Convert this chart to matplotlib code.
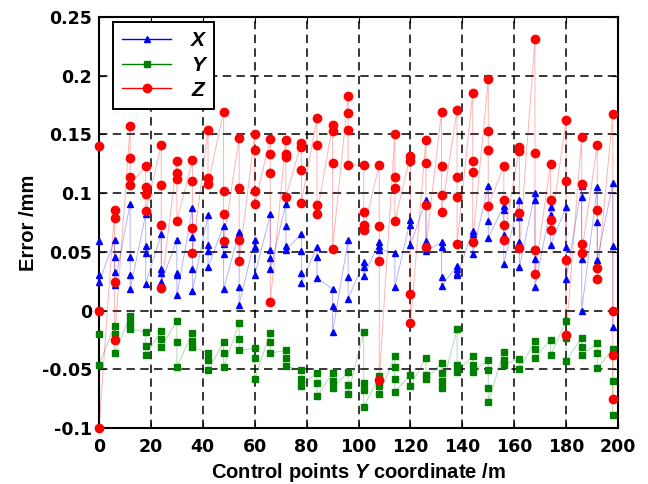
import numpy as np
import matplotlib
matplotlib.use('Agg')
from matplotlib import pyplot as plt

# control point Y coordinate (m), one group of points per position
cols = [0, 6, 12, 18, 24, 30, 36, 42, 48, 54, 60, 66, 72, 78, 84, 90, 96,
        102, 108, 114, 120, 126, 132, 138, 144, 150, 156, 162, 168, 174,
        180, 186, 192, 198]

err_x = [[0.059, 0.030, 0.024], [0.060, 0.046, 0.033, 0.022],
         [0.091, 0.046, 0.030, 0.018], [0.082, 0.055, 0.049, 0.023],
         [0.065, 0.035, 0.032, 0.024], [0.060, 0.032, 0.030, 0.013],
         [0.087, 0.0625, 0.035, 0.017], [0.0815, 0.056, 0.051, 0.037],
         [0.072, 0.057, 0.048, 0.0185], [0.067, 0.065, 0.020, 0.005],
         [0.060, 0.054, 0.030], [0.082, 0.052, 0.045, 0.035],
         [0.091, 0.072, 0.055, 0.052], [0.065, 0.0505, 0.032, 0.0236],
         [0.0545, 0.046, 0.028], [0.018, 0.004, -0.0185],
         [0.060, 0.029, 0.010], [0.041, 0.037, 0.0295],
         [0.058, 0.055, 0.052], [0.049, 0.020],
         [0.077, 0.073, 0.056], [0.094, 0.059, 0.051],
         [0.058, 0.054, 0.029, 0.021], [0.038, 0.035, 0.032, 0.030],
         [0.068, 0.065, 0.048], [0.1065, 0.076, 0.062],
         [0.089, 0.086, 0.064, 0.040], [0.094, 0.080, 0.058, 0.037],
         [0.100, 0.094, 0.044, 0.020], [0.088, 0.081, 0.056],
         [0.088, 0.054, 0.027], [0.1065, 0.0965, 0.044, 0.0],
         [0.105, 0.075, 0.043], [0.1085, 0.055, -0.014]]

err_y = [[0.0, -0.020, -0.046], [-0.013, -0.020, -0.036],
         [-0.005, -0.011, -0.016], [-0.018, -0.030, -0.038],
         [-0.017, -0.024, -0.031], [-0.009, -0.027, -0.048],
         [-0.019, -0.026, -0.031], [-0.036, -0.042, -0.051],
         [-0.027, -0.036, -0.048], [-0.011, -0.024, -0.034],
         [-0.032, -0.040, -0.058], [-0.019, -0.027, -0.036],
         [-0.034, -0.040, -0.047], [-0.051, -0.058, -0.064],
         [-0.053, -0.062, -0.073], [-0.053, -0.060, -0.066],
         [-0.0525, -0.063, -0.071], [-0.0185, -0.062, -0.068, -0.082],
         [-0.056, -0.064, -0.071], [-0.039, -0.048, -0.058, -0.069],
         [-0.055, -0.064], [-0.040, -0.055, -0.058],
         [-0.045, -0.053, -0.060, -0.066], [-0.016, -0.046, -0.052],
         [-0.039, -0.046, -0.052], [-0.042, -0.051, -0.066, -0.078],
         [-0.035, -0.042, -0.046], [-0.041, -0.050],
         [-0.026, -0.033, -0.040], [-0.025, -0.038],
         [-0.009, -0.023, -0.043], [-0.023, -0.031, -0.038],
         [-0.028, -0.036, -0.049], [-0.033, -0.060, -0.089]]

err_z = [[0.140, 0.0, -0.100], [0.086, 0.079, 0.024, -0.025],
         [0.157, 0.130, 0.114, 0.107], [0.123, 0.105, 0.099, 0.085],
         [0.141, 0.107, 0.073, 0.019], [0.127, 0.117, 0.112, 0.076],
         [0.128, 0.110, 0.070, 0.049], [0.154, 0.113, 0.108],
         [0.169, 0.102, 0.082, 0.059], [0.147, 0.104, 0.060, 0.042],
         [0.150, 0.137, 0.102, 0.091], [0.146, 0.133, 0.117, 0.007],
         [0.145, 0.133, 0.131, 0.0965], [0.143, 0.139, 0.120, 0.092],
         [0.164, 0.141, 0.090, 0.082], [0.158, 0.1525, 0.126, 0.0525],
         [0.183, 0.168, 0.154, 0.124], [0.124, 0.084, 0.073, 0.069],
         [0.124, 0.072, 0.042, -0.059], [0.150, 0.114, 0.1045, 0.076],
         [0.132, 0.127, 0.014, -0.011], [0.145, 0.126, 0.090, 0.0545],
         [0.1695, 0.123, 0.0985, 0.084], [0.171, 0.114, 0.0965, 0.057],
         [0.185, 0.127, 0.118, 0.058], [0.197, 0.153, 0.137, 0.089],
         [0.123, 0.094, 0.073, 0.060], [0.139, 0.136, 0.083, 0.053],
         [0.231, 0.134, 0.052, 0.031], [0.125, 0.094, 0.077, 0.069],
         [0.162, 0.110, 0.043, -0.021], [0.148, 0.108, 0.057, 0.049],
         [0.141, 0.086, 0.036, 0.027], [0.167, 0.0, -0.0375, -0.075]]

xticks = [0, 20, 40, 60, 80, 100, 120, 140, 160, 180, 200]
yticks = [-0.1, -0.05, 0, 0.05, 0.1, 0.15, 0.2, 0.25]
ylabels = ['-0.1', '-0.05', '0', '0.05', '0.1', '0.15', '0.2', '0.25']


def flatten(groups):
    xs, vs = [], []
    for c, g in zip(cols, groups):
        xs += [c] * len(g)
        vs += g
    return xs, vs


plt.rcParams['font.family'] = ['Liberation Sans', 'DejaVu Sans']
plt.rcParams['mathtext.fontset'] = 'custom'
plt.rcParams['mathtext.it'] = 'Liberation Sans:italic:bold'
plt.rcParams['mathtext.rm'] = 'Liberation Sans:bold'

fig = plt.figure(figsize=(6.48, 4.84), dpi=100)
ax = fig.add_axes([0.1528, 0.1157, 0.8009, 0.8492])

seriler = [(err_x, 'b', '^', 5, 'X'), (err_y, 'g', 's', 5, 'Y'), (err_z, 'r', 'o', 6, 'Z')]
for veri, renk, mk, ms, ad in seriler:
    xs, vs = flatten(veri)
    ax.plot(xs, vs, '-', color=renk, lw=0.7, alpha=0.3, zorder=2, clip_on=False)
    ax.plot(xs, vs, linestyle='none', marker=mk, color=renk, ms=ms, zorder=3, clip_on=False)
    # legend proxy
    ax.plot([], [], '-', color=renk, marker=mk, ms=ms, lw=1, label=ad)

ax.set_xlim(0, 200)
ax.set_ylim(-0.1, 0.25)
ax.set_xticks(xticks)
ax.set_yticks(yticks)
ax.set_yticklabels(ylabels)
ax.grid(True, color='k', linestyle=(0, (5.5, 3.5)), linewidth=1.1)
ax.tick_params(direction='in', top=True, right=True, length=4)
ax.tick_params(axis='x', pad=7)
ax.tick_params(axis='y', pad=5)
for t in ax.get_xticklabels() + ax.get_yticklabels():
    t.set_fontfamily('DejaVu Sans')
    t.set_fontweight('bold')
    t.set_fontsize(12.5)
for s in ax.spines.values():
    s.set_linewidth(1.5)

ax.set_xlabel('Control points $Y$ coordinate /m', fontsize=14.5, fontweight='bold', labelpad=4)
ax.set_ylabel('Error /mm', fontsize=14.5, fontweight='bold', labelpad=3)

leg = ax.legend(loc='upper left', bbox_to_anchor=(0.027, 0.988), borderaxespad=0,
                prop={'family': 'Liberation Sans', 'weight': 'bold', 'style': 'italic', 'size': 15},
                frameon=True, fancybox=False, edgecolor='k', framealpha=1,
                handlelength=2.35, handletextpad=0.95, labelspacing=0.27, borderpad=0.45)
leg.get_frame().set_linewidth(1.4)

fig.savefig('out.png', dpi=100)
